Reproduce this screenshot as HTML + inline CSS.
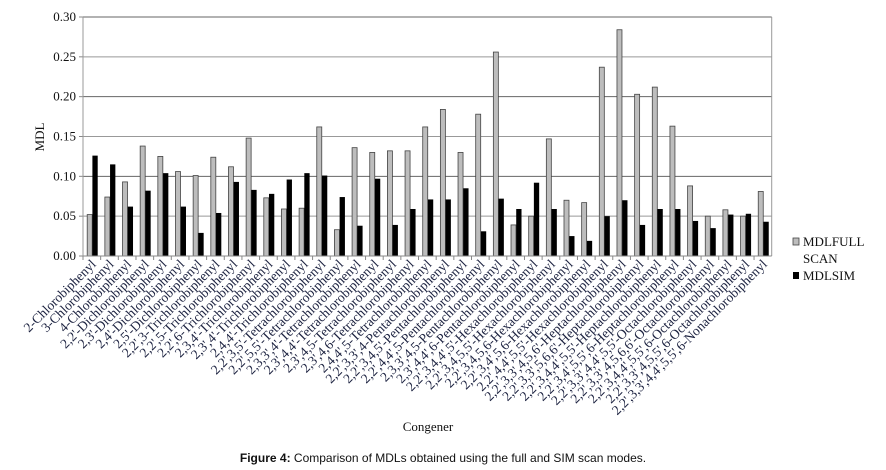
<!DOCTYPE html>
<html><head><meta charset="utf-8"><style>
html,body{margin:0;padding:0;background:#fff;}
svg{display:block;}
.serif{font-family:"Liberation Serif","Times New Roman",serif;}
.sans{font-family:"Liberation Sans",Arial,sans-serif;}
</style></head><body>
<svg id="chart" width="886" height="470" viewBox="0 0 886 470" xmlns="http://www.w3.org/2000/svg">
<g id="grid"></g>
<g id="yaxis"></g>
<g id="bars"></g>
<g id="xaxis"></g>
<text class="serif" x="0" y="0" transform="translate(44,137) rotate(-90)" text-anchor="middle" font-size="13" fill="#111">MDL</text>
<text class="serif" x="428" y="431" text-anchor="middle" font-size="13" fill="#111">Congener</text>
<g>
<rect x="793" y="238" width="6" height="7" fill="#bdbdbd" stroke="#444" stroke-width="0.8"/>
<text class="serif" x="803" y="246" font-size="13" fill="#111">MDLFULL</text>
<text class="serif" x="803" y="263" font-size="13" fill="#111">SCAN</text>
<rect x="793" y="272" width="6" height="7" fill="#000"/>
<text class="serif" x="803" y="280" font-size="13" fill="#111">MDLSIM</text>
</g>
<text class="sans" x="443" y="462" text-anchor="middle" font-size="12" fill="#111"><tspan font-weight="bold">Figure 4:</tspan> Comparison of MDLs obtained using the full and SIM scan modes.</text>
</svg>
<script>
const categories = ["2-Chlorobiphenyl","3-Chlorobiphenyl","4-Chlorobiphenyl","2,2'-Dichlorobiphenyl","2,3'-Dichlorobiphenyl","2,4'-Dichlorobiphenyl","2,5'-Dichlorobiphenyl","2,2',3-Trichlorobiphenyl","2,2',5-Trichlorobiphenyl","2,2',6-Trichlorobiphenyl","2,3,4'-Trichlorobiphenyl","2,3',4'-Trichlorobiphenyl","2,4,4'-Trichlorobiphenyl","2,2',3,5'-Tetrachlorobiphenyl","2,2',5,5'-Tetrachlorobiphenyl","2,3,3',4'-Tetrachlorobiphenyl","2,3',4,4'-Tetrachlorobiphenyl","2,3',4,5-Tetrachlorobiphenyl","2,3',4,6-Tetrachlorobiphenyl","2,4,4',5-Tetrachlorobiphenyl","2,2',3,3',4-Pentachlorobiphenyl","2,2',3,4,5'-Pentachlorobiphenyl","2,2',4,4',5-Pentachlorobiphenyl","2,3,3',4,5-Pentachlorobiphenyl","2,3',4,4',6-Pentachlorobiphenyl","2,2',3,4,4',5'-Hexachlorobiphenyl","2,2',3,4,5,5'-Hexachlorobiphenyl","2,2',3,4,5,6-Hexachlorobiphenyl","2,2',3,4',5,6-Hexachlorobiphenyl","2,2',4,4',5,5'-Hexachlorobiphenyl","2,2',3,3',4,5,6'-Heptachlorobiphenyl","2,2',3,3',5,6,6'-Heptachlorobiphenyl","2,2',3,4,4',5,5'-Heptachlorobiphenyl","2,2',3,4',5,5',6-Heptachlorobiphenyl","2,2',3,3',4,4',5,5'-Octachlorobiphenyl","2,2',3,3',4,5,6,6'-Octachlorobiphenyl","2,2',3,4,4',5,5',6-Octachlorobiphenyl","2,2',3,3',4,5,5',6-Octachlorobiphenyl","2,2',3,3',4,4',5,5',6-Nonachlorobiphenyl"];
const fullScan = [0.052,0.074,0.093,0.138,0.125,0.106,0.101,0.124,0.112,0.148,0.073,0.059,0.060,0.162,0.033,0.136,0.130,0.132,0.132,0.162,0.184,0.130,0.178,0.256,0.039,0.050,0.147,0.070,0.067,0.237,0.284,0.203,0.212,0.163,0.088,0.050,0.058,0.050,0.081];
const simScan = [0.126,0.115,0.062,0.082,0.104,0.062,0.029,0.054,0.093,0.083,0.078,0.096,0.104,0.101,0.074,0.038,0.097,0.039,0.059,0.071,0.071,0.085,0.031,0.072,0.059,0.092,0.059,0.025,0.019,0.050,0.070,0.039,0.059,0.059,0.044,0.035,0.052,0.053,0.043];
const yTicks = [0,0.05,0.10,0.15,0.20,0.25,0.30];
const yTickLabels = ["0.00","0.05","0.10","0.15","0.20","0.25","0.30"];

const NS="http://www.w3.org/2000/svg";
const X0=83, X1=771.7, Y0=256, Y1=17, YMAX=0.30;
const band=(X1-X0)/categories.length;
function yScale(v){return Y0-(v/YMAX)*(Y0-Y1);}
function xScale(i){return X0+i*band;}
function mk(tag,attrs,parent){const e=document.createElementNS(NS,tag);for(const k in attrs)e.setAttribute(k,attrs[k]);parent.appendChild(e);return e;}
const grid=document.getElementById('grid'),yaxis=document.getElementById('yaxis'),bars=document.getElementById('bars'),xaxis=document.getElementById('xaxis');

yTicks.forEach((t,i)=>{
  const y=yScale(t);
  if(t>0){
    const g=mk('line',{x1:X0,x2:X1,y1:y,y2:y,stroke:(i%2===0)?'#666':'#999','stroke-width':1},grid);
    
    
  }
  const tk=mk('line',{x1:X0-4,x2:X0,y1:y,y2:y,stroke:'#888','stroke-width':1},yaxis);
  
  
  const lb=mk('text',{class:'serif',x:X0-7,y:y+4,'text-anchor':'end','font-size':13,fill:'#111'},yaxis);
  lb.textContent=yTickLabels[i];
  
  
});
const ax=mk('line',{x1:X0,x2:X0,y1:Y1,y2:Y0,stroke:'#999','stroke-width':1},yaxis);


const rx=mk('line',{x1:X1,x2:X1,y1:Y1,y2:Y0,stroke:'#999','stroke-width':1},yaxis);


const xl=mk('line',{x1:X0,x2:X1,y1:Y0,y2:Y0,stroke:'#888','stroke-width':1},xaxis);



categories.forEach((c,i)=>{
  const x=xScale(i);
  const tk=mk('line',{x1:x,x2:x,y1:Y0,y2:Y0+4,stroke:'#888','stroke-width':1},xaxis);
  
  
  const gy=yScale(fullScan[i]);
  const gb=mk('rect',{x:x+4.2,y:gy,width:5,height:Y0-gy,fill:'#bdbdbd',stroke:'#444','stroke-width':0.8},bars);
  
  
  const sy=yScale(simScan[i]);
  const sb=mk('rect',{x:x+9.4,y:sy,width:5.3,height:Y0-sy,fill:'#000'},bars);
  
  
  const cx=x+band/2+5;
  const lb=mk('text',{class:'serif',x:0,y:0,transform:`translate(${cx},${Y0+9}) rotate(-45)`,'text-anchor':'end','font-size':13.5,fill:'#1c2240'},xaxis);
  lb.textContent=c;
  
  
});
</script>
</body></html>
